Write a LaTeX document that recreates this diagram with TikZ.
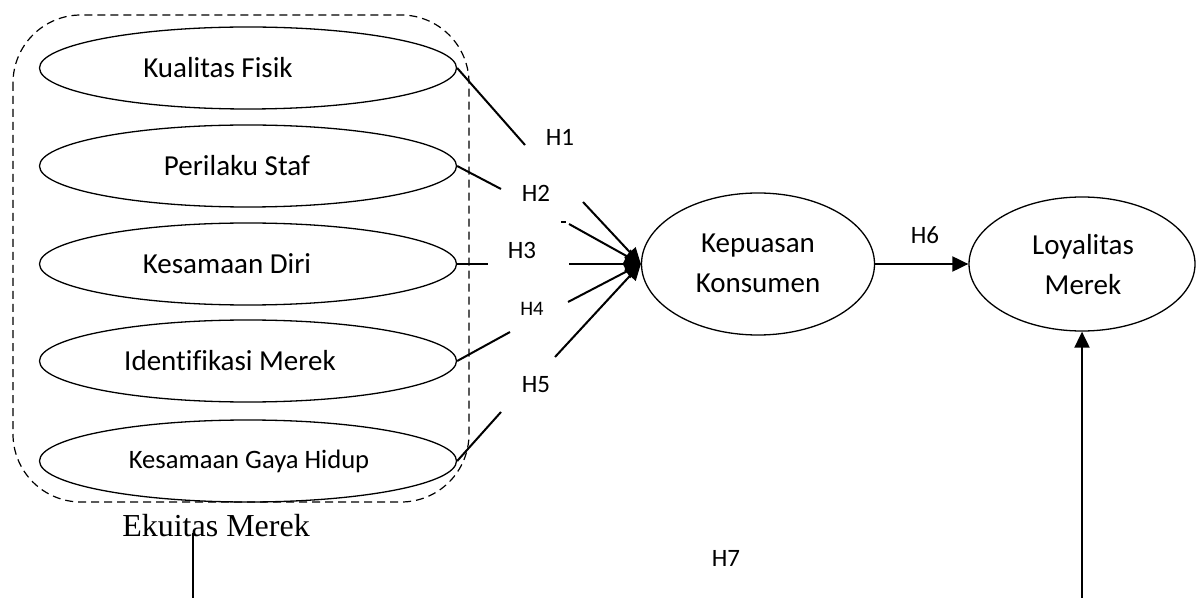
\documentclass[tikz,border=0pt]{standalone}
\usepackage{fontspec}
\setmainfont{Carlito}[Ligatures={NoCommon}]
\newfontfamily\timesf{Liberation Serif}
\usetikzlibrary{arrows.meta,shapes.geometric}
\begin{document}
\begin{tikzpicture}[x=0.5pt,y=-0.5pt,
  fac/.style={ellipse,draw,line width=0.65pt,minimum width=208.5pt,minimum height=41pt,inner sep=0pt},
  bigell/.style={ellipse,draw,line width=0.65pt,inner sep=0pt},
  lbl/.style={font=\fontsize{14.5}{20}\selectfont,inner sep=0pt},
  hyp/.style={font=\fontsize{12.5}{15}\selectfont,inner sep=0pt},
  conn/.style={line width=1pt},
  arr/.style={line width=1pt,-{Triangle[length=8pt,width=7.5pt]}},
]
\useasboundingbox (0,0) rectangle (1197,598);

% group box
\draw[dash pattern=on 4pt off 2.5pt, line width=0.6pt, rounded corners=34pt] (13,15) rectangle (469,502);

% factor ellipses
\node[fac] (k1) at (248,68) {};
\node[fac] (k2) at (248,166) {};
\node[fac] (k3) at (248,264) {};
\node[fac] (k4) at (248,361) {};
\node[fac] (k5) at (248,461) {};
\node[lbl] (t1) at (218,68) {Kualitas Fisik};
\node[lbl] (t2) at (237,166) {Perilaku Staf};
\node[lbl] (t3) at (227,264) {Kesamaan Diri};
\node[lbl] (t4) at (230,361) {Identifikasi Merek};
\node[lbl,font=\fontsize{13.3}{16}\selectfont] (t5) at (249,461) {Kesamaan Gaya Hidup};

% main constructs
\node[bigell,minimum width=116.5pt,minimum height=71pt] (kep) at (758,264) {};
\node[lbl,align=center] (tkep) at (758,263) {Kepuasan\\Konsumen};
\node[bigell,minimum width=113pt,minimum height=67pt] (loy) at (1082,264) {};
\node[lbl,align=center] (tloy) at (1083,265) {Loyalitas\\Merek};

\node[font=\timesf\fontsize{16}{19}\selectfont,inner sep=0pt] (ek) at (216,526) {Ekuitas Merek};

% hypothesis labels
\node[hyp] (H1) at (560,137) {H1};
\node[hyp] (H2) at (536,193) {H2};
\node[hyp] (H3) at (522,250) {H3};
\node[hyp,font=\fontsize{10.3}{12}\selectfont] (H4) at (532,309) {H4};
\node[hyp] (H5) at (536,385) {H5};
\node[hyp] (H6) at (925,235) {H6};
\node[hyp] (H7) at (726,558) {H7};

% break points
\coordinate (h1a) at (525,145); \coordinate (h1b) at (583,202);
\coordinate (h2a) at (501,189); \coordinate (h2b) at (569,224);
\coordinate (h3a) at (488,264); \coordinate (h3b) at (569,264);
\coordinate (h4a) at (510,332); \coordinate (h4b) at (568,302);
\coordinate (h5a) at (501,412); \coordinate (h5b) at (555,357);
\coordinate (tk1) at (561,222); \coordinate (tk2) at (566,222);

\draw[conn] (k1.east) -- (h1a);
\draw[arr] (h1b) -- (kep.west);
\draw[conn] (k2.east) -- (h2a);
\draw[arr] (h2b) -- (kep.west);
\draw[conn] (k3.east) -- (h3a);
\draw[arr] (h3b) -- (kep.west);
\draw[conn] (k4.east) -- (h4a);
\draw[arr] (h4b) -- (kep.west);
\draw[conn] (k5.east) -- (h5a);
\draw[arr] (h5b) -- (kep.west);
\draw[line width=0.6pt] (tk1) -- (tk2);

\draw[arr] (kep.east) -- (loy.west);

\coordinate (h7s) at (1082,598);
\draw[arr] (h7s) -- (loy.south);

\coordinate (e1) at (193,533); \coordinate (e2) at (193,598);
\draw[line width=0.65pt] (e1) -- (e2);
\end{tikzpicture}
\end{document}
